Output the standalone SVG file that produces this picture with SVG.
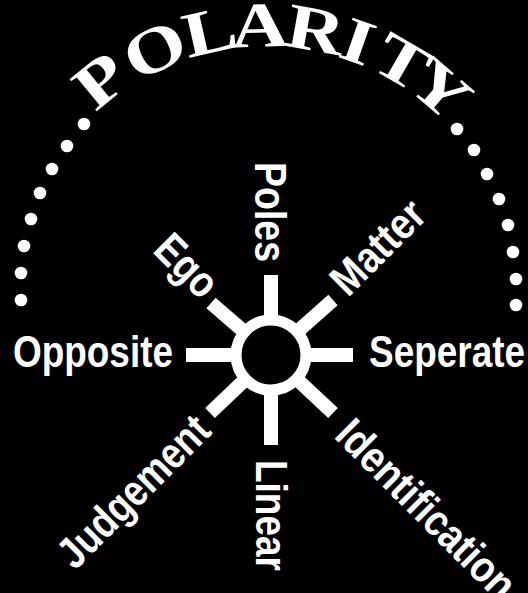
<svg xmlns="http://www.w3.org/2000/svg" width="528" height="593" viewBox="0 0 528 593">
<style>
.t{font-family:"Liberation Serif",serif;font-weight:bold;font-size:64px;fill:#fff;text-anchor:middle}
.l{font-family:"Liberation Sans",Arial,sans-serif;font-weight:bold;font-size:44px;fill:#fff}
.dot{fill:#fff}
.ray{stroke:#fff;stroke-width:14;stroke-linecap:butt}
</style>
<rect width="528" height="593" fill="#000"/>
<g id="title">
<text class="t" transform="translate(114,97) rotate(-39.5) scale(1.25,1)">P</text>
<text class="t" transform="translate(163.8,69) rotate(-25.4) scale(1.25,1)">O</text>
<text class="t" transform="translate(214.2,52) rotate(-12.8) scale(1.25,1)">L</text>
<text class="t" transform="translate(260.4,46.5) rotate(-1.8) scale(1.25,1)">A</text>
<text class="t" transform="translate(312,50.5) rotate(10.2) scale(1.25,1)">R</text>
<text class="t" transform="translate(351,61.5) rotate(19.4) scale(1.25,1)">I</text>
<text class="t" transform="translate(391.5,80.5) rotate(30.1) scale(1.25,1)">T</text>
<text class="t" transform="translate(427,105.5) rotate(40.6) scale(1.25,1)">Y</text>
</g>
<g id="dots-left">
<circle class="dot" cx="84" cy="124" r="6.3"/>
<circle class="dot" cx="67" cy="146" r="6.3"/>
<circle class="dot" cx="52" cy="169" r="6.3"/>
<circle class="dot" cx="40" cy="193" r="6.3"/>
<circle class="dot" cx="31" cy="219" r="6.3"/>
<circle class="dot" cx="24" cy="246" r="6.3"/>
<circle class="dot" cx="21" cy="273" r="6.3"/>
<circle class="dot" cx="21" cy="300" r="6.3"/>
</g>
<g id="dots-right">
<circle class="dot" cx="457" cy="129" r="6.3"/>
<circle class="dot" cx="474" cy="150" r="6.3"/>
<circle class="dot" cx="487" cy="174" r="6.3"/>
<circle class="dot" cx="499" cy="199" r="6.3"/>
<circle class="dot" cx="508" cy="225" r="6.3"/>
<circle class="dot" cx="513" cy="252" r="6.3"/>
<circle class="dot" cx="516" cy="279" r="6.3"/>
<circle class="dot" cx="516" cy="305" r="6.3"/>
</g>
<g id="connectors">
<line class="ray" x1="271" y1="355" x2="271" y2="275"/>
<line class="ray" x1="271" y1="355" x2="271" y2="445"/>
<line class="ray" x1="271" y1="355" x2="186" y2="355"/>
<line class="ray" x1="271" y1="355" x2="353" y2="355"/>
<line class="ray" x1="271" y1="355" x2="211" y2="303"/>
<line class="ray" x1="271" y1="355" x2="333" y2="300"/>
<line class="ray" x1="271" y1="355" x2="210" y2="413"/>
<line class="ray" x1="271" y1="355" x2="333" y2="413"/>
</g>
<g id="hub">
<circle cx="271" cy="355" r="35" fill="#000" stroke="#fff" stroke-width="11"/>
</g>
<g id="label-poles"><text class="l" text-anchor="end" textLength="100" lengthAdjust="spacingAndGlyphs" transform="translate(255,262) rotate(90)">Poles</text></g>
<g id="label-linear"><text class="l" textLength="111" lengthAdjust="spacingAndGlyphs" transform="translate(256,460) rotate(90)">Linear</text></g>
<g id="label-opposite"><text class="l" text-anchor="end" textLength="160" lengthAdjust="spacingAndGlyphs" x="173" y="367">Opposite</text></g>
<g id="label-seperate"><text class="l" textLength="156" lengthAdjust="spacingAndGlyphs" x="369" y="367">Seperate</text></g>
<g id="label-ego"><text class="l" text-anchor="end" textLength="70" lengthAdjust="spacingAndGlyphs" transform="translate(201,301) rotate(45)">Ego</text></g>
<g id="label-matter"><text class="l" textLength="114" lengthAdjust="spacingAndGlyphs" transform="translate(348,298) rotate(-45)">Matter</text></g>
<g id="label-judgement"><text class="l" text-anchor="end" textLength="195" lengthAdjust="spacingAndGlyphs" transform="translate(213,433) rotate(-45)">Judgement</text></g>
<g id="label-identification"><text class="l" textLength="234" lengthAdjust="spacingAndGlyphs" transform="translate(333,437) rotate(45)">Identification</text></g>
</svg>
